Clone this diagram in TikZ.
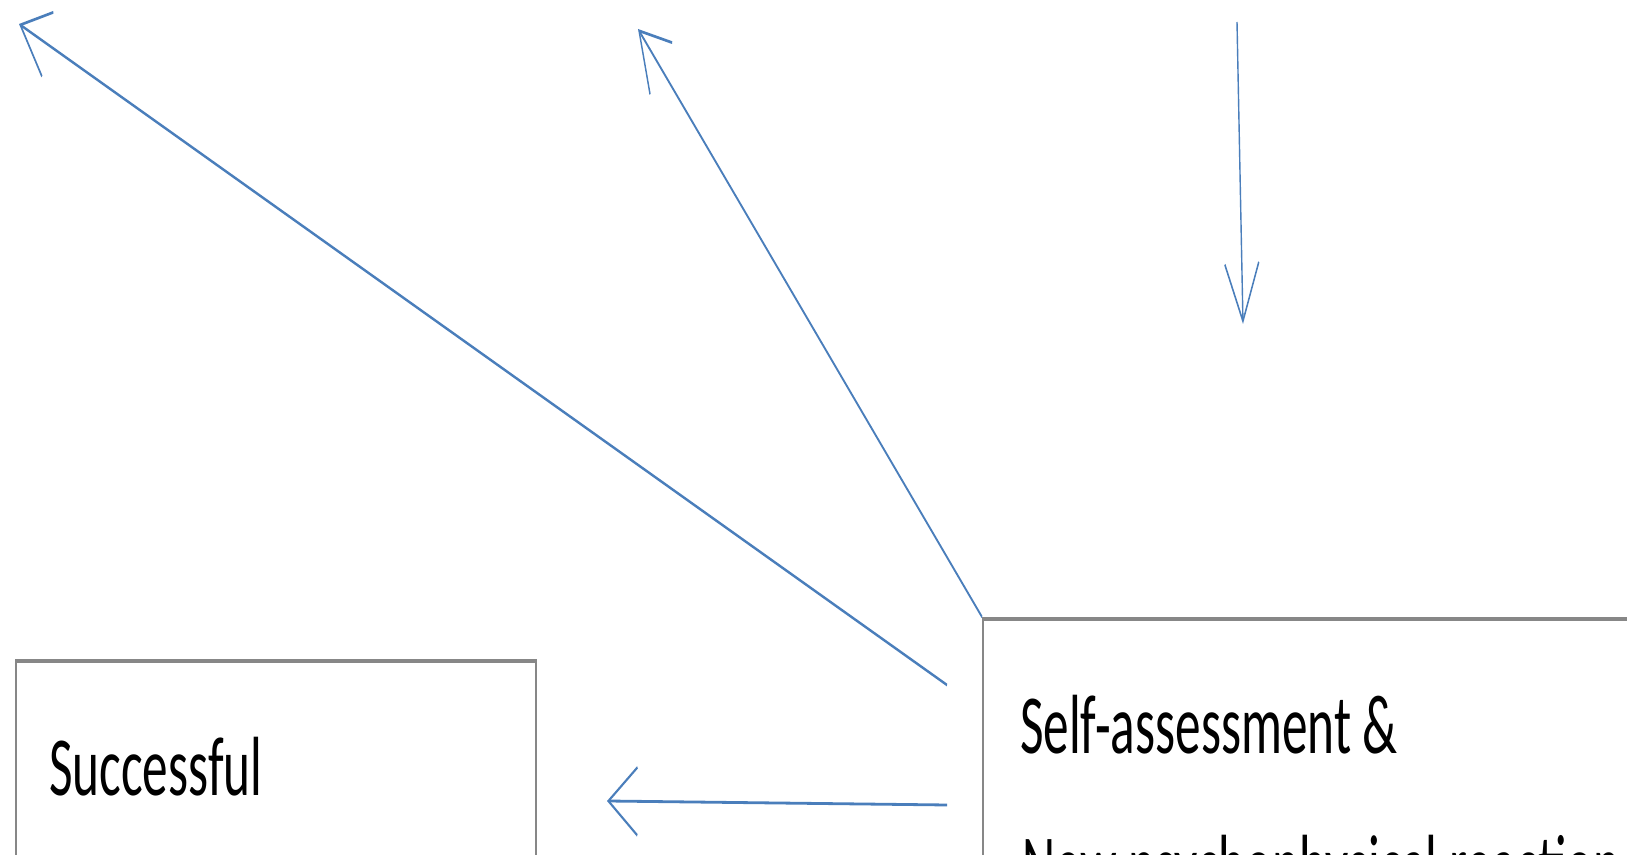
\documentclass[tikz,border=0pt]{standalone}
\usepackage{fontspec}
\setmainfont{Carlito}[FakeStretch=1.22]
\usepackage{xcolor}
\usetikzlibrary{arrows.meta,positioning}
\definecolor{flowblue}{RGB}{74,126,187}
\definecolor{framegray}{RGB}{135,135,135}

\begin{document}
\begin{tikzpicture}[x=1pt,y=0.5pt,
  flow/.style={draw=flowblue,line width=1.4pt,-{Straight Barb[length=29pt,width=34pt]}},
  stagebox/.style={draw=framegray,line width=1.8pt,anchor=north west,inner sep=0pt},
  stagetext/.style={anchor=base west,inner sep=0pt,font=\fontsize{42}{50}\selectfont}]
\useasboundingbox (0pt,0pt) rectangle (813.5pt,427.5pt);
\clip (0pt,0pt) rectangle (813.5pt,427.5pt);
% whole slide is squeezed to half width
\begin{scope}[transform canvas={xscale=0.5}]
% Drawing boxes
\node[stagebox,minimum width=720pt,minimum height=130pt] (selfbox) at (982,238) {};
\node[stagebox,minimum width=520pt,minimum height=110pt] (successbox) at (15,196) {};
% Box texts
\node[stagetext] (selftext) at (1020,101) {Self-assessment \&};
\node[stagetext] (reacttext) at (1022,-39) {New psychophysical reaction};
\node[stagetext] (successtext) at (49,59) {Successful};
% Free ends of the arrows
\coordinate (farleft) at (19,831);
\coordinate (midtop) at (638,826);
\coordinate (downtop) at (1237,833);
\coordinate (downend) at (1243,531);
\coordinate (leftstart) at (947,170);
\coordinate (lowstart) at (947,50);
\coordinate (lowend) at (607,54);
% Drawing arrows
\draw[flow] (leftstart) -- (farleft);
\draw[flow] (selfbox.north west) -- (midtop);
\draw[flow] (downtop) -- (downend);
\draw[flow] (lowstart) -- (lowend);
\end{scope}
\end{tikzpicture}
\end{document}
